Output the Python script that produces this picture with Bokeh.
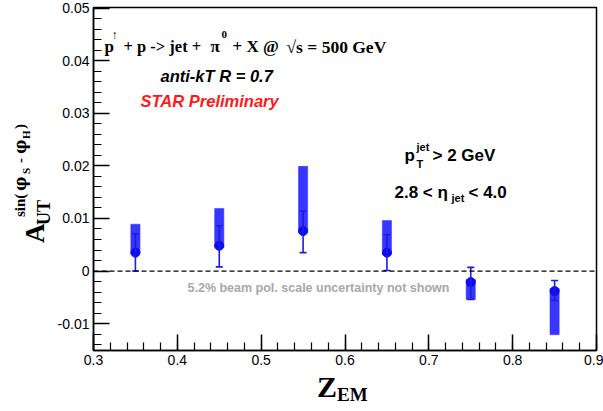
from bokeh.plotting import figure
from bokeh.layouts import row, column
from bokeh.models import (ColumnDataSource, Whisker, TeeHead, Span, Label,
                          FixedTicker, Range1d, Div)
from bokeh.embed import file_html
from bokeh.resources import INLINE

# ---- data ----
z_em = [0.35, 0.45, 0.55, 0.65, 0.75, 0.85]
a_ut = [0.0035, 0.0048, 0.0076, 0.0035, -0.0021, -0.0038]
stat_lo = [0.0000, 0.0008, 0.0035, 0.0001, -0.0054, -0.0056]
stat_hi = [0.0071, 0.0086, 0.0114, 0.0069, 0.0007, -0.0018]
sys_lo = [0.0033, 0.0045, 0.0073, 0.0032, -0.0054, -0.0121]
sys_hi = [0.0089, 0.0119, 0.0199, 0.0096, -0.0016, -0.0033]

x_ticks = [0.3, 0.4, 0.5, 0.6, 0.7, 0.8, 0.9]
x_tick_labels = ["0.3", "0.4", "0.5", "0.6", "0.7", "0.8", "0.9"]
y_ticks = [-0.01, 0.0, 0.01, 0.02, 0.03, 0.04, 0.05]
y_tick_labels = ["-0.01", "0", "0.01", "0.02", "0.03", "0.04", "0.05"]
x_minor = [round(0.3 + 0.02 * i, 4) for i in range(31)]
y_minor = [round(-0.014 + 0.002 * i, 4) for i in range(33)]

XMIN, XMAX = 0.3, 0.9
YMIN, YMAX = -0.0151, 0.0501

W, H = 603, 411
FL, FR, FT, FB = 92, 596, 7, 350      # frame edges in window pixels
LW = 54                               # width of the y-title strip
MAIN_H = 372                          # height of the main figure
BH = H - MAIN_H                       # height of the x-title strip

SERIF = "Liberation Serif"
SANS = "Liberation Sans"

p = figure(width=W - LW, height=MAIN_H, output_backend="svg",
           toolbar_location=None,
           x_range=Range1d(XMIN, XMAX), y_range=Range1d(YMIN, YMAX),
           min_border_left=FL - LW, min_border_right=W - FR,
           min_border_top=FT, min_border_bottom=MAIN_H - FB)
p.grid.visible = False
p.background_fill_color = "white"
p.border_fill_color = "white"
p.outline_line_color = "black"
p.outline_line_width = 1.5

for ax, ticks, minor, labels in ((p.xaxis[0], x_ticks, x_minor, x_tick_labels),
                                 (p.yaxis[0], y_ticks, y_minor, y_tick_labels)):
    ax.ticker = FixedTicker(ticks=ticks, minor_ticks=minor)
    ax.major_label_overrides = {t: l for t, l in zip(ticks, labels)}
    ax.major_tick_in = 16
    ax.major_tick_out = 0
    ax.minor_tick_in = 8
    ax.minor_tick_out = 0
    ax.axis_line_color = "black"
    ax.axis_line_width = 1.5
    ax.major_tick_line_color = "black"
    ax.major_tick_line_width = 1.5
    ax.minor_tick_line_color = "black"
    ax.minor_tick_line_width = 1.2
    ax.major_label_text_font = SANS
    ax.major_label_text_font_size = "14px"
    ax.major_label_text_color = "black"
    ax.major_label_standoff = 4

src = ColumnDataSource(dict(z=z_em, a=a_ut, slo=stat_lo, shi=stat_hi,
                            ylo=sys_lo, yhi=sys_hi))

# zero line
p.add_layout(Span(location=0, dimension="width", line_color="black",
                  line_dash="5 3", line_width=1.2))

# systematic boxes
p.vbar(x="z", top="yhi", bottom="ylo", width=0.011, source=src,
       fill_color="#3636ff", line_color="#3636ff", line_width=0.5)

# statistical error bars (above the boxes)
p.add_layout(Whisker(source=src, base="z", lower="slo", upper="shi",
                     dimension="height", line_color="#1c1ce0", line_width=1.6,
                     level="glyph",
                     upper_head=TeeHead(size=7, line_color="#1c1ce0", line_width=1.6),
                     lower_head=TeeHead(size=7, line_color="#1c1ce0", line_width=1.6)))

# points
p.scatter(x="z", y="a", source=src, size=9, marker="circle",
          fill_color="#0c0cf0", line_color="#0c0cf0")


def lab(text, px, py, size, font=SANS, style="normal", color="black"):
    # px, py: window pixels; screen units count from the frame's bottom-left
    p.add_layout(Label(x=px - FL, y=FB - py, x_units="screen", y_units="screen",
                       text=text, text_font=font,
                       text_font_size=f"{size}px", text_font_style=style,
                       text_color=color, text_align="left",
                       text_baseline="alphabetic"))


# title line
lab("p", 103, 46, 17, SERIF, "bold")
lab("↑", 110, 34, 12, SERIF, "bold")
lab("+ p -> jet +", 122, 46, 16.5, SERIF, "bold")
lab("π", 209, 46, 17, SERIF, "bold")
lab("0", 220, 34, 11, SERIF, "bold")
lab("+ X @", 231, 46, 17, SERIF, "bold")
lab("√s = 500 GeV", 285, 46, 17.5, SERIF, "bold")

lab("anti-kT R = 0.7", 159, 75, 16.5, SANS, "bold italic")
lab("STAR Preliminary", 139, 100, 16.5, SANS, "bold italic", color="#ff1a1a")

# kinematic cuts
lab("p", 403, 155, 17, SANS, "bold")
lab("jet", 415, 146, 11, SANS, "bold")
lab("T", 415, 163, 11, SANS, "bold")
lab("> 2 GeV", 431, 155, 17, SANS, "bold")
lab("2.8 < η", 393, 192, 17, SANS, "bold")
lab("jet", 450, 197, 11, SANS, "bold")
lab("< 4.0", 467, 192, 17, SANS, "bold")

lab("5.2% beam pol. scale uncertainty not shown", 186, 287, 12.5, SANS,
    "bold", color="#a8a8a8")

# ---- axis titles as HTML text in strips beside the plot ----
ASC = {"Liberation Serif": 0.8375, "DejaVu Serif": 0.846}


def span(text, bx, by, size, font=SERIF, rotate=False, ox=0, oy=0):
    """bx, by: baseline start in window pixels; ox, oy: strip origin."""
    a = ASC[font] * size
    if rotate:
        left, top = bx - a - ox, by - oy
        rot = "transform:rotate(-90deg);transform-origin:0 0;"
    else:
        left, top = bx - ox, by - a - oy
        rot = ""
    return (f'<span style="position:absolute;left:{left:.1f}px;top:{top:.1f}px;'
            f"font-family:'{font}';font-weight:bold;font-size:{size}px;"
            f'line-height:{size}px;white-space:nowrap;color:black;{rot}">'
            f"{text}</span>")


def box(w, h, inner):
    return (f'<div style="position:relative;width:{w}px;height:{h}px;'
            f'margin:0;padding:0;overflow:visible;">{inner}</div>')


y_title = "".join([
    span("A", 45, 243, 27, rotate=True),
    span("UT", 50, 225, 18, rotate=True),
    span("sin(", 26, 217, 15, rotate=True),
    span("φ", 26, 191, 16, "DejaVu Serif", rotate=True),
    span("S", 30, 174, 11, rotate=True),
    span("-", 26, 163, 15, rotate=True),
    span("φ", 26, 154, 16, "DejaVu Serif", rotate=True),
    span("H", 30, 139, 11, rotate=True),
    span(")", 26, 129, 15, rotate=True),
])
x_title = "".join([
    span("Z", 317, 397, 30, ox=LW, oy=MAIN_H),
    span("EM", 337, 401, 19, ox=LW, oy=MAIN_H),
])

left_div = Div(text=box(LW, H, y_title), width=LW, height=H, margin=0)
bottom_div = Div(text=box(W - LW, BH, x_title), width=W - LW, height=BH, margin=0)

layout = row(left_div, column(p, bottom_div))
open("out.html", "w").write(file_html(layout, INLINE))
